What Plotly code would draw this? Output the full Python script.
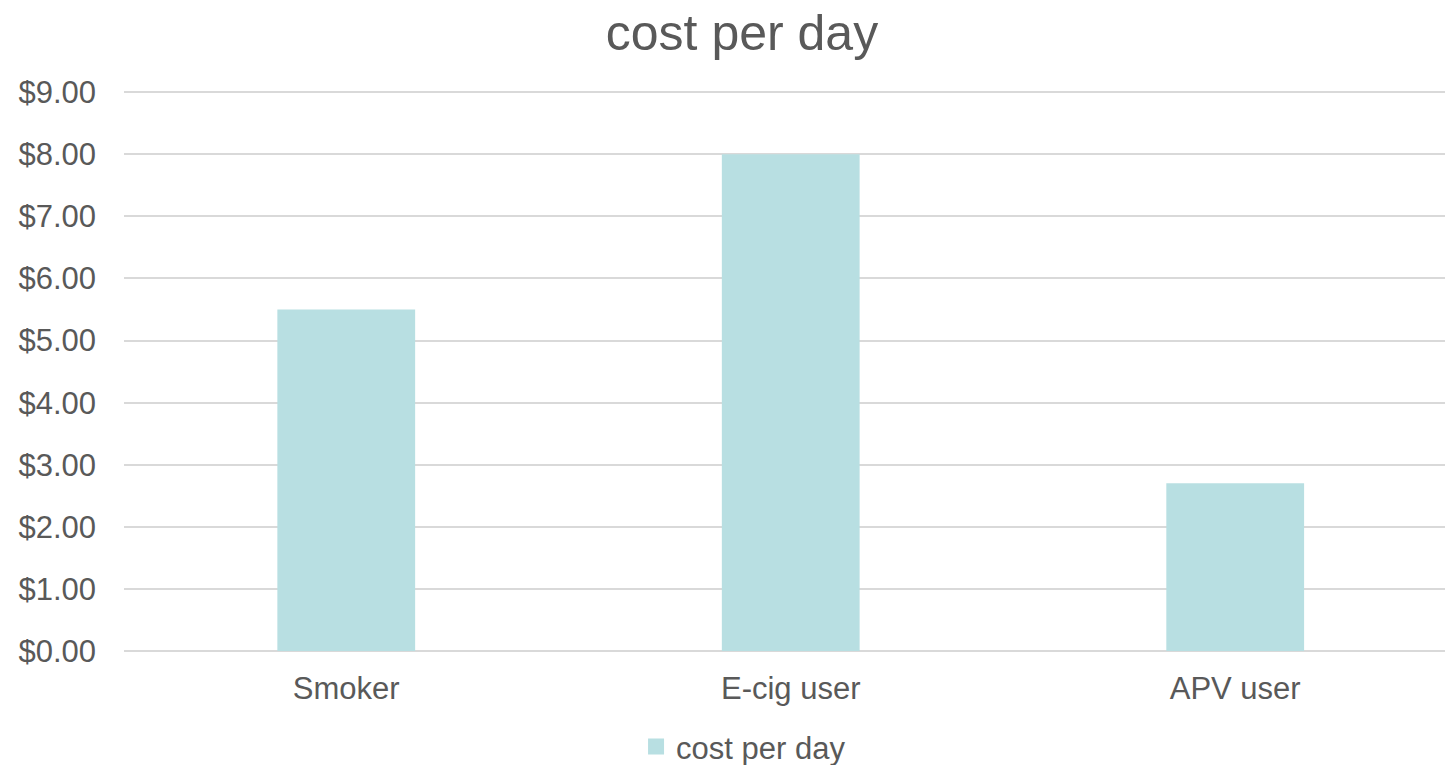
import plotly.graph_objects as go

categories = ["Smoker", "E-cig user", "APV user"]
values = [5.50, 8.00, 2.70]
series_name = "cost per day"
title_text = "cost per day"

TXT = "#595959"
BAR = "#B8DFE2"
FONT = "Liberation Sans"

fig = go.Figure()
fig.add_trace(go.Bar(
    x=list(range(len(categories))), y=values, name=series_name,
    marker=dict(color=BAR, line=dict(width=0)),
    showlegend=False,
))
# legend entry with a larger square swatch
fig.add_trace(go.Scatter(
    x=[None], y=[None], mode="markers", name=series_name,
    marker=dict(symbol="square", size=16, color=BAR),
    showlegend=True, hoverinfo="skip",
))

fig.update_layout(
    width=1445, height=765,
    margin=dict(l=124, r=0, t=91, b=114, autoexpand=False),
    paper_bgcolor="white", plot_bgcolor="white",
    font=dict(family=FONT, color=TXT, size=31),
    title=dict(text=title_text, x=0.5135, xanchor="center", y=0.958, yanchor="middle",
               font=dict(size=50, color=TXT, family=FONT)),
    bargap=0.69,
    showlegend=True,
    legend=dict(orientation="h", x=0.469, xanchor="center", y=-0.171, yanchor="middle",
                font=dict(size=31, color=TXT, family=FONT), itemsizing="trace",
                bgcolor="rgba(0,0,0,0)", traceorder="normal"),
    xaxis=dict(tickmode="array", tickvals=list(range(len(categories))), ticktext=categories,
               range=[-0.5, 2.472], showgrid=False, zeroline=False,
               showline=False, ticks="", tickfont=dict(size=31, color=TXT),
               ticklabelstandoff=16),
    yaxis=dict(range=[0, 9.02], tickvals=list(range(0, 10)), tickformat="$.2f",
               showgrid=True, gridcolor="#D9D9D9", gridwidth=2,
               zeroline=True, zerolinecolor="#D9D9D9", zerolinewidth=2,
               showline=False, ticks="", tickfont=dict(size=31, color=TXT),
               ticklabelstandoff=27),
)

fig.write_html("out.html")
